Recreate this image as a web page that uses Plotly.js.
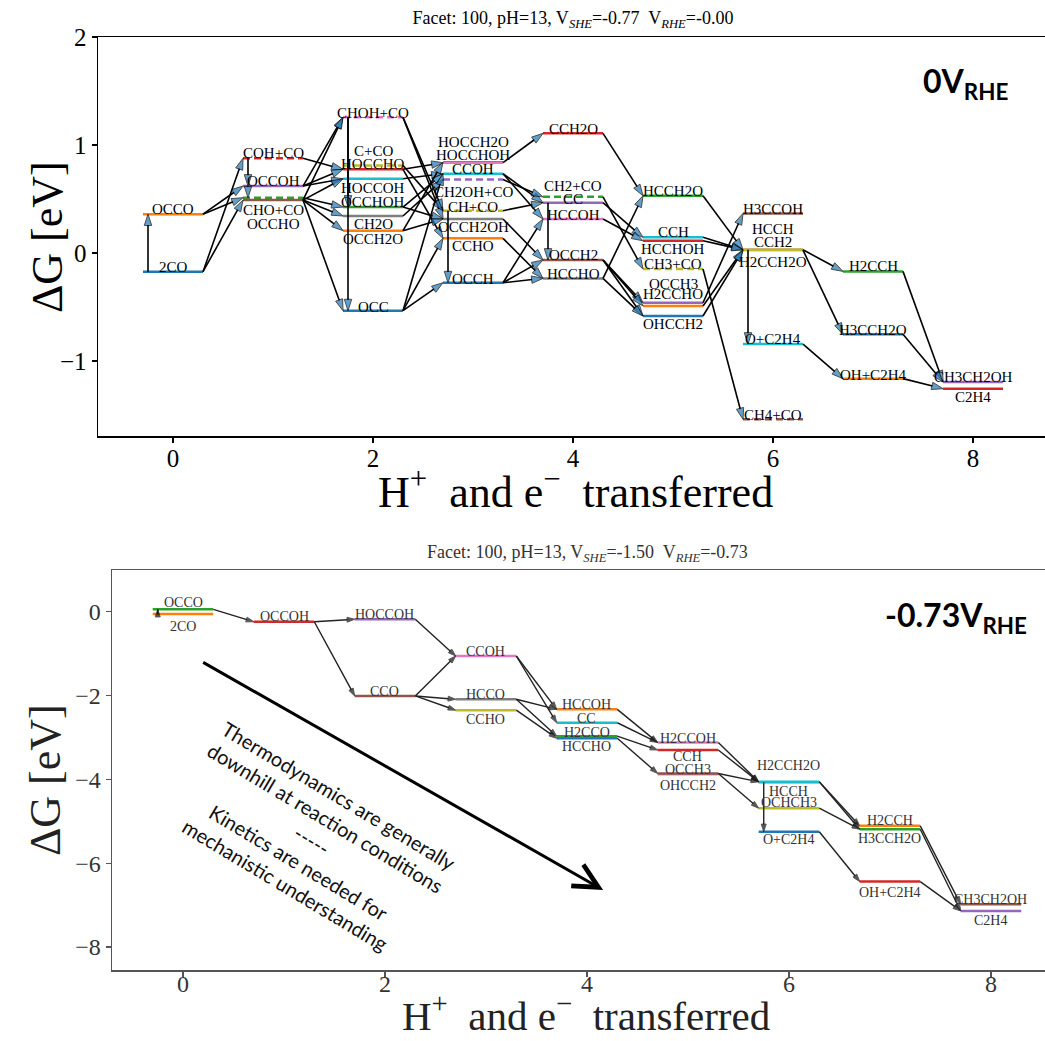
<!DOCTYPE html>
<html><head><meta charset="utf-8">
<script src="https://cdn.plot.ly/plotly-3.0.1.min.js"></script>
<style>html,body{margin:0;padding:0;background:#fff}#chart{width:1045px;height:1041px}</style>
</head><body><div id="chart"></div>
<script>
// ================= DATA: top panel (0 V_RHE) =================
const topNames = ['2CO','OCCO','CHO+CO','COH+CO','OCCOH','OCCHO',
  'CHOH+CO','CH2O','C+CO','HOCCOH','OCC','OCCH2O','OCCHOH','HOCCHO',
  'CH2OH+CO','HOCCH2O','HOCCHOH','OCCH2OH','CH+CO','CCOH','OCCH','CCHO',
  'CH2+CO','CCH2O','CC','OCCH2','HCCOH','HCCHO',
  'CH3+CO','CCH','OHCCH2','H2CCHO','HCCH2O','HCCHOH','OCCH3',
  'H3CCOH','CH4+CO','HCCH','H2CCH2O','CCH2','O+C2H4',
  'H3CCH2O','OH+C2H4','H2CCH',
  'CH3CH2OH','C2H4'];
const topSteps = [0,0,1,1,1,1, 2,2,2,2,2,2,2,2, 3,3,3,3,3,3,3,3, 4,4,4,4,4,4, 5,5,5,5,5,5,5, 6,6,6,6,6,6, 7,7,7, 8,8];
const topEnergies = [-0.173,0.36,0.512,0.877,0.62,0.49,
  1.256,0.343,0.81,0.688,-0.534,0.207,0.426,0.775,
  0.68,0.84,0.836,0.315,0.392,0.734,-0.275,0.136,
  0.52,1.108,0.466,-0.065,0.315,-0.235,
  -0.148,0.145,-0.583,-0.49,0.53,0.114,-0.46,
  0.367,-1.54,0.03,0.027,0.03,-0.843,
  -0.753,-1.163,-0.17,
  -1.194,-1.256];
const topArrowFrom = ['2CO','2CO','2CO','OCCO','OCCO','COH+CO','OCCOH',
  'COH+CO','OCCOH','OCCOH','OCCOH','OCCHO','CHO+CO','OCCHO','OCCHO','OCCHO','OCCHO',
  'CHOH+CO','CHOH+CO','CHOH+CO','CHOH+CO','HOCCHO','HOCCHO','HOCCOH','OCCHOH','OCCHOH','CH2O','C+CO','OCCH2O','OCCH2O','OCC','OCC','OCC',
  'CH+CO','HOCCHOH','CCOH','CCOH','CH2OH+CO','CH+CO','OCCH2OH','CCHO','OCCH','OCCH','OCCH',
  'CC','CCH2O','CH2+CO','CC','HCCOH','OCCH2','OCCH2','OCCH2','HCCHO','HCCHO',
  'HCCH2O','CCH','HCCHOH','CH3+CO','OCCH3','H2CCHO','OHCCH2',
  'HCCH','CCH2','H2CCH2O','O+C2H4',
  'H2CCH','H3CCH2O','OH+C2H4'];
const topArrowTo = ['OCCO','COH+CO','OCCHO','OCCOH','CHO+CO','OCCOH','CHO+CO',
  'HOCCHO','CHOH+CO','HOCCHO','HOCCOH','CHOH+CO','OCCHOH','CH2O','OCCH2O','OCC','HOCCOH',
  'OCCHOH','OCC','CH+CO','OCCH2OH','HOCCHOH','CCHO','CCOH','CCOH','OCCH2OH','CH2OH+CO','CH+CO','HOCCH2O','OCCH2OH','CCOH','CCHO','OCCH',
  'OCCH','CCH2O','CC','HCCOH','CH2+CO','CC','OCCH2','HCCHO','HCCOH','OCCH2','HCCHO',
  'OCCH2','HCCH2O','CH3+CO','CCH','HCCHOH','OCCH3','H2CCHO','OHCCH2','HCCH2O','OHCCH2',
  'CCH2','CCH2','HCCH','CH4+CO','H3CCOH','CCH2','H2CCH2O',
  'O+C2H4','H2CCH','H3CCH2O','OH+C2H4',
  'CH3CH2OH','CH3CH2OH','C2H4'];

// ================= DATA: bottom panel (-0.73 V_RHE) =================
const botNames = ['2CO','OCCO','OCCOH','HOCCOH','CCO','CCOH','HCCO','CCHO',
  'HCCHO','HCCOH','CC','H2CCO','H2CCOH','CCH','OHCCH2','OCCH3',
  'HCCH','H2CCH2O','OCHCH3','O+C2H4','H3CCH2O','H2CCH','OH+C2H4','C2H4','CH3CH2OH'];
const botSteps = [0,0,1,2,2,3,3,3, 4,4,4,4,5,5,5,5, 6,6,6,6,7,7,7,8,8];
const botEnergies = [-0.055,0.057,-0.24,-0.18,-2.01,-1.057,-2.09,-2.35,
  -3.02,-2.33,-2.65,-2.97,-3.12,-3.30,-3.88,-3.86,
  -4.07,-4.06,-4.69,-5.25,-5.19,-5.11,-6.44,-7.14,-6.98];
const botArrowFrom = ['2CO','OCCO','OCCOH','OCCOH','HOCCOH','CCO','CCO','CCO','CCOH','CCOH','HCCO','HCCO','CCHO',
  'HCCOH','CC','H2CCO','HCCHO','H2CCOH','CCH','OCCH3','OCCH3','HCCH',
  'H2CCH2O','H2CCH2O','OCHCH3','O+C2H4','H2CCH','H3CCH2O','OH+C2H4'];
const botArrowTo = ['OCCO','OCCOH','HOCCOH','CCO','CCOH','CCOH','HCCO','CCHO','HCCOH','CC','HCCOH','H2CCO','HCCHO',
  'H2CCOH','H2CCOH','CCH','OCCH3','H2CCH2O','H2CCH2O','H2CCH2O','OCHCH3','O+C2H4',
  'H2CCH','H3CCH2O','H3CCH2O','OH+C2H4','CH3CH2OH','C2H4','C2H4'];

const xTicks = [0,2,4,6,8];
const topYTicks = [-1,0,1,2];
const botYTicks = [-8,-6,-4,-2,0];

// ================= STYLE =================
const C = {blue:'#1f77b4',orange:'#ff7f0e',green:'#2ca02c',red:'#d62728',purple:'#9467bd',
  brown:'#8c564b',pink:'#e377c2',gray:'#7f7f7f',olive:'#bcbd22',cyan:'#17becf'};
const topColors = ['blue','orange','green','red','purple','brown',
  'pink','gray','olive','cyan','blue','orange','green','red',
  'purple','brown','pink','gray','olive','cyan','blue','orange',
  'green','red','purple','brown','pink','gray',
  'olive','cyan','blue','orange','green','red','purple',
  'brown','brown','pink','gray','olive','cyan',
  'blue','orange','green','purple','red'];
const topDashed = topNames.map(n => n.indexOf('+CO') > 0);
const topLabelDy = [5,5,-12,5,5,-24, 4,-8,15,-9,4,-8,5,5, -12,20,8,-8,4,5,4,-8, 11,4,4,5,4,4, 5,5,-8,12,5,-8,19, 4,4,21,-12,8,5, 4,4,5, 5,-8];
const botColors = ['orange','green','red','purple','brown','pink','gray','olive',
  'blue','orange','cyan','green','pink','red','pink','brown',
  'gray','cyan','olive','blue','green','orange','red','purple','brown'];
const botLabelDy = [-12,7,5,5,4,4,5,-9, -8,5,4,4,4,-7,-11,4, -9,16,6,-8,-9,5,-11,-10,5];

function panel(names, steps, energies, colors, dashed, labelDy, aFrom, aTo, xa, ya, o) {
  const traces = [], ann = [];
  const idx = {};
  names.forEach((n,i) => idx[n] = i);
  names.forEach((n,i) => {
    traces.push({type:'scatter', mode:'lines', xaxis:xa, yaxis:ya,
      x:[steps[i]-0.3, steps[i]+0.3], y:[energies[i], energies[i]],
      line:{color:C[colors[i]], width:o.levelWidth, dash: dashed[i] ? '7px,4px' : 'solid'},
      hoverinfo:'skip', showlegend:false});
    ann.push({xref:xa, yref:ya, x:steps[i], y:energies[i], text:n, showarrow:false,
      xanchor:'center', yanchor:'middle', yshift:labelDy[i],
      font:{family:'Liberation Serif', size:o.labelSize, color:o.labelColor}});
  });
  aFrom.forEach((f,k) => {
    const a = idx[f], b = idx[aTo[k]];
    let x0, x1;
    if (steps[a] === steps[b]) { x0 = x1 = steps[a] - 0.25; }
    else { x0 = steps[a] + 0.3; x1 = steps[b] - 0.3; }
    traces.push({type:'scatter', mode:'lines+markers', xaxis:xa, yaxis:ya,
      x:[x0, x1], y:[energies[a], energies[b]],
      line:{color:o.arrowColor, width:o.arrowWidth},
      marker:{symbol:'arrow', angleref:'previous', size:[0, o.headSize], color:o.headColor,
        line:{color:o.headLine, width:1}},
      hoverinfo:'skip', showlegend:false});
  });
  return {traces, ann};
}

const topPanel = panel(topNames, topSteps, topEnergies, topColors, topDashed, topLabelDy,
  topArrowFrom, topArrowTo, 'x', 'y',
  {levelWidth:2.5, labelSize:15, labelColor:'#000', arrowColor:'#000', arrowWidth:1.6,
   headSize:12, headColor:'#1f77b4', headLine:'#000'});
const botPanel = panel(botNames, botSteps, botEnergies, botColors, botNames.map(()=>false), botLabelDy,
  botArrowFrom, botArrowTo, 'x2', 'y2',
  {levelWidth:2.5, labelSize:14, labelColor:'#333', arrowColor:'#222', arrowWidth:1.4,
   headSize:8, headColor:'#111', headLine:'#111'});

const W = 1045, H = 1041;
const serif = 'Liberation Serif, Times New Roman, serif';
function yd(pTop, pBot){ return [1 - pBot/H, 1 - pTop/H]; }
function px(x, y){ return {x: x/W, y: 1 - y/H}; }

const axBase = {showgrid:false, zeroline:false, ticks:'outside', ticklen:5, tickwidth:1.2, showline:true};
const xTitle = 'H<sup>+</sup>\u00a0 and e<sup>\u2212</sup>\u00a0 transferred';

function paperText(pos, text, size, color, extra) {
  const p = px(pos[0], pos[1]);
  return Object.assign({xref:'paper', yref:'paper', x:p.x, y:p.y, xanchor:'center', yanchor:'middle',
    showarrow:false, text:text, font:{family:serif, size:size, color:color}}, extra || {});
}

const layout = {
  width:W, height:H, margin:{l:0, r:0, t:0, b:0}, showlegend:false,
  paper_bgcolor:'#fff', plot_bgcolor:'#fff',
  title:{text:'Facet: 100, pH=13, V<sub><i>SHE</i></sub>=-0.77\u00a0 V<sub><i>RHE</i></sub>=-0.00',
    font:{family:serif, size:18, color:'#000'}, x:573/W, xanchor:'center', y:1-18/H, yanchor:'middle'},
  xaxis: Object.assign({}, axBase, {domain:[98/W, 1], anchor:'y', range:[-0.75, 8.72],
    tickvals:xTicks, ticktext:xTicks.map(String), mirror:true, linecolor:'#000', linewidth:1.5, tickcolor:'#000',
    ticklabelstandoff:-6,
    tickfont:{family:serif, size:25, color:'#000'}}),
  yaxis: Object.assign({}, axBase, {domain:yd(37,436), anchor:'x', range:[-1.694, 2.0],
    tickvals:topYTicks, ticktext:topYTicks.map(v => v < 0 ? '\u2212' + Math.abs(v) : String(v)),
    linecolor:'#000', linewidth:1.5, tickcolor:'#000',
    tickfont:{family:serif, size:25, color:'#000'}}),
  xaxis2: Object.assign({}, axBase, {domain:[112/W, 1], anchor:'y2', range:[-0.703, 8.535],
    tickvals:xTicks, ticktext:xTicks.map(String), mirror:true, linecolor:'#555', linewidth:1.5, tickcolor:'#555',
    ticklabelstandoff:-13,
    tickfont:{family:serif, size:24, color:'#333'}}),
  yaxis2: Object.assign({}, axBase, {domain:yd(570,970), anchor:'x2', range:[-8.55, 0.995],
    tickvals:botYTicks, ticktext:botYTicks.map(v => v < 0 ? '\u2212' + Math.abs(v) : String(v)),
    linecolor:'#555', linewidth:1.5, tickcolor:'#555',
    tickfont:{family:serif, size:24, color:'#333'}}),
  annotations: topPanel.ann.concat(botPanel.ann).concat([
    paperText([575, 490], xTitle, 44, '#000'),
    paperText([47, 237], '\u0394G [eV]', 44, '#000', {textangle:-90}),
    paperText([586, 1041], xTitle, 41, '#222', {yanchor:'bottom'}),
    paperText([45, 780], '\u0394G [eV]', 44, '#222', {textangle:-90}),
    paperText([587, 553], 'Facet: 100, pH=13, V<sub><i>SHE</i></sub>=-1.50\u00a0 V<sub><i>RHE</i></sub>=-0.73', 18, '#333'),
    paperText([965, 83], '<b>0V<sub>RHE</sub></b>', 32, '#000', {font:{family:'Lato, Open Sans, sans-serif', size:32, color:'#000'}}),
    paperText([956, 617], '<b>-0.73V<sub>RHE</sub></b>', 32, '#000', {font:{family:'Lato, Open Sans, sans-serif', size:32, color:'#000'}}),
    {xref:'x2', yref:'y2', x:4.16, y:-6.64, axref:'x2', ayref:'y2', ax:0.185, ay:-1.19, text:'',
     showarrow:true, arrowhead:5, arrowsize:1.6, arrowwidth:3, arrowcolor:'#000'},
    {xref:'x2', yref:'y2', x:1.277, y:-5.45, showarrow:false, textangle:31, align:'center',
     text:'Thermodynamics are generally<br>downhill at reaction conditions<br>-----<br>Kinetics are needed for<br>mechanistic understanding',
     font:{family:'Lato, Open Sans, sans-serif', size:20, color:'#111'}}
  ])
};

Plotly.newPlot('chart', topPanel.traces.concat(botPanel.traces), layout, {staticPlot:true, displayModeBar:false});
</script>
</body></html>
